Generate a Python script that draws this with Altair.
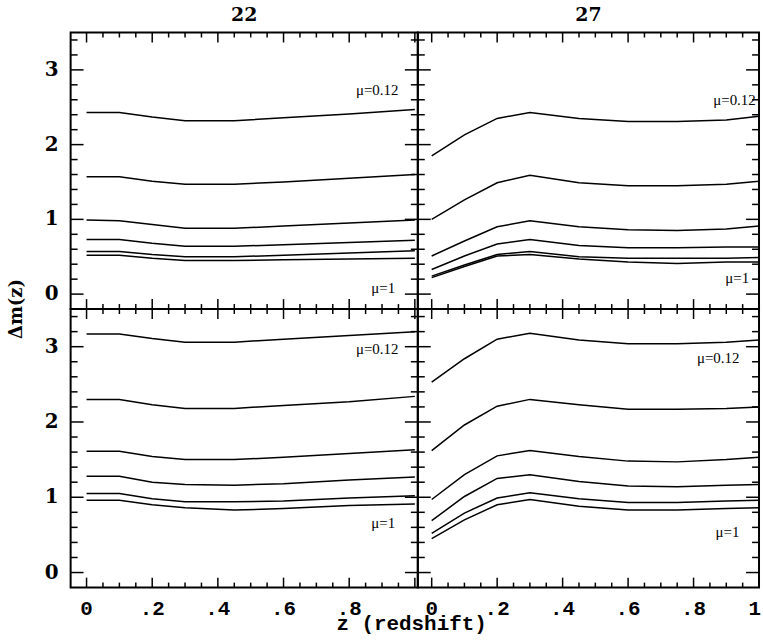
import altair as alt
import pandas as pd

# ---------------- data ----------------
z_left = [0, 0.1, 0.2, 0.3, 0.45, 0.6, 0.8, 1.0]
z_right = [0, 0.1, 0.2, 0.3, 0.45, 0.6, 0.75, 0.9, 1.0]

# upper row, panel "22"
up22 = [
    [2.43, 2.43, 2.37, 2.32, 2.32, 2.36, 2.41, 2.47],
    [1.57, 1.57, 1.51, 1.47, 1.47, 1.50, 1.55, 1.60],
    [0.99, 0.98, 0.93, 0.88, 0.88, 0.91, 0.95, 0.99],
    [0.73, 0.73, 0.68, 0.64, 0.64, 0.66, 0.69, 0.72],
    [0.57, 0.57, 0.53, 0.50, 0.50, 0.52, 0.55, 0.58],
    [0.52, 0.52, 0.48, 0.45, 0.45, 0.46, 0.47, 0.48],
]
# upper row, panel "27"
up27 = [
    [1.85, 2.13, 2.35, 2.43, 2.35, 2.31, 2.31, 2.33, 2.38],
    [1.00, 1.26, 1.49, 1.59, 1.49, 1.45, 1.45, 1.47, 1.51],
    [0.51, 0.71, 0.90, 0.98, 0.90, 0.86, 0.85, 0.87, 0.91],
    [0.33, 0.51, 0.67, 0.73, 0.65, 0.62, 0.62, 0.63, 0.63],
    [0.24, 0.39, 0.53, 0.57, 0.50, 0.48, 0.48, 0.48, 0.49],
    [0.22, 0.37, 0.51, 0.53, 0.47, 0.43, 0.41, 0.43, 0.43],
]
# lower row, panel "22"
lo22 = [
    [3.17, 3.17, 3.11, 3.06, 3.06, 3.10, 3.15, 3.20],
    [2.30, 2.30, 2.23, 2.18, 2.18, 2.22, 2.27, 2.34],
    [1.61, 1.61, 1.54, 1.50, 1.50, 1.53, 1.58, 1.63],
    [1.28, 1.28, 1.20, 1.17, 1.16, 1.18, 1.23, 1.27],
    [1.05, 1.05, 0.98, 0.94, 0.94, 0.95, 0.99, 1.02],
    [0.96, 0.96, 0.90, 0.86, 0.83, 0.85, 0.89, 0.91],
]
# lower row, panel "27"
lo27 = [
    [2.53, 2.84, 3.10, 3.18, 3.09, 3.04, 3.04, 3.06, 3.09],
    [1.62, 1.96, 2.21, 2.30, 2.23, 2.17, 2.17, 2.18, 2.20],
    [0.97, 1.30, 1.55, 1.62, 1.54, 1.48, 1.47, 1.50, 1.53],
    [0.69, 1.01, 1.25, 1.30, 1.21, 1.15, 1.14, 1.16, 1.17],
    [0.52, 0.79, 0.99, 1.06, 0.98, 0.93, 0.93, 0.95, 0.96],
    [0.45, 0.70, 0.90, 0.97, 0.88, 0.83, 0.83, 0.85, 0.86],
]

mu_text = ["\u03bc=0.12", "\u03bc=1"]
mu_up22 = ([0.95, 0.94], [2.73, 0.08])
mu_up27 = ([0.99, 0.97], [2.60, 0.21])
mu_lo22 = ([0.95, 0.94], [2.97, 0.66])
mu_lo27 = ([0.94, 0.94], [2.85, 0.54])

panel_titles = ["22", "27"]
y_title = "\u0394m(z)"
x_title = "z (redshift)"
y_title_pos = (-0.197, -0.2)   # data position, upper-left panel
x_title_pos = (0.99, -0.69)    # data position, lower-left panel

x_major = [0, 0.2, 0.4, 0.6, 0.8, 1.0]
x_minor = [0.05, 0.1, 0.15, 0.25, 0.3, 0.35, 0.45, 0.5, 0.55, 0.65, 0.7,
           0.75, 0.85, 0.9, 0.95]
x_tick_vals = [0, 0.2, 0.4, 0.6, 0.8]
x_tick_text = ["0", ".2", ".4", ".6", ".8"]
x_end_val = [1.0]
x_end_text = ["1"]
y_major = [0, 1, 2, 3]
y_tick_text = ["0", "1", "2", "3"]
y_minor = [0.2, 0.4, 0.6, 0.8, 1.2, 1.4, 1.6, 1.8, 2.2, 2.4, 2.6, 2.8,
           3.2, 3.4]

y_dom = [-0.2, 3.5]
x_dom_left = [-0.0485, 1.009]
x_dom_right = [-0.0424, 1.0]

SERIF = "DejaVu Serif"
MONO = "Liberation Mono"
MAJ_Y, MIN_Y = 13, 7     # tick lengths (px) on vertical edges
MAJ_X, MIN_X = 10, 5     # tick lengths (px) on horizontal edges


def curves_df(zs, ys):
    rows = []
    for i, ser in enumerate(ys):
        for z, v in zip(zs, ser):
            rows.append({"z": z, "dm": v, "curve": i})
    return pd.DataFrame(rows)


def ticks_df(xdom, width, height):
    # inward frame ticks as two-point segments, endpoints in data units
    dx = (xdom[1] - xdom[0]) / width
    dy = (y_dom[1] - y_dom[0]) / height
    x0, x1 = xdom
    y0, y1 = y_dom
    segs = []
    for vals, ln in ((y_major, MAJ_Y), (y_minor, MIN_Y)):
        for v in vals:
            segs.append(((x0, v), (x0 + ln * dx, v)))
            segs.append(((x1, v), (x1 - ln * dx, v)))
    for vals, ln in ((x_major, MAJ_X), (x_minor, MIN_X)):
        for v in vals:
            segs.append(((v, y0), (v, y0 + ln * dy)))
            segs.append(((v, y1), (v, y1 - ln * dy)))
    rows = []
    for i, (p, q) in enumerate(segs):
        rows.append({"id": i, "k": 0, "tx": p[0], "ty": p[1]})
        rows.append({"id": i, "k": 1, "tx": q[0], "ty": q[1]})
    return pd.DataFrame(rows)


def panel(zs, ys, mu, width, height, xdom, left, bottom, right_end=False,
          title=None, ytitle=False, xtitle=False):
    xs = alt.Scale(domain=xdom, nice=False, zero=False)
    ysc = alt.Scale(domain=y_dom, nice=False, zero=False)

    def X(field):
        return alt.X(field, scale=xs, axis=None)

    def Y(field):
        return alt.Y(field, scale=ysc, axis=None)

    layers = [
        alt.Chart(curves_df(zs, ys)).mark_line(
            color="black", strokeWidth=1.5).encode(
            x=X("z:Q"), y=Y("dm:Q"), detail="curve:N"),
        alt.Chart(ticks_df(xdom, width, height)).mark_line(
            color="black", strokeWidth=1.5, strokeCap="butt").encode(
            x=X("tx:Q"), y=Y("ty:Q"), detail="id:N",
            order=alt.Order("k:Q")),
        alt.Chart(pd.DataFrame({"z": mu[0], "dm": mu[1], "t": mu_text}))
        .mark_text(align="right", baseline="middle", font="Liberation Serif",
                   fontSize=15, color="black")
        .encode(x=X("z:Q"), y=Y("dm:Q"), text="t:N"),
    ]

    if left:
        layers.append(alt.Chart(pd.DataFrame(
            {"z": [xdom[0]] * len(y_major), "dm": y_major, "t": y_tick_text}
        )).mark_text(
            align="right", baseline="middle", dx=-12, font=SERIF,
            fontSize=20, fontWeight="bold", color="black"
        ).encode(x=X("z:Q"), y=Y("dm:Q"), text="t:N"))

    if bottom:
        layers.append(alt.Chart(pd.DataFrame(
            {"z": x_tick_vals, "dm": [y_dom[0]] * len(x_tick_vals),
             "t": x_tick_text}
        )).mark_text(
            align="center", baseline="top", dy=11, font=MONO, fontSize=21,
            fontWeight="bold", color="black"
        ).encode(x=X("z:Q"), y=Y("dm:Q"), text="t:N"))
        if right_end:
            layers.append(alt.Chart(pd.DataFrame(
                {"z": x_end_val, "dm": [y_dom[0]], "t": x_end_text}
            )).mark_text(
                align="right", baseline="top", dy=11, dx=2, font=MONO,
                fontSize=21, fontWeight="bold", color="black"
            ).encode(x=X("z:Q"), y=Y("dm:Q"), text="t:N"))

    if ytitle:
        layers.append(alt.Chart(pd.DataFrame(
            {"z": [y_title_pos[0]], "dm": [y_title_pos[1]], "t": [y_title]}
        )).mark_text(
            angle=270, align="center", baseline="alphabetic", font=SERIF,
            fontSize=18, fontWeight="bold", color="black"
        ).encode(x=X("z:Q"), y=Y("dm:Q"), text="t:N"))

    if xtitle:
        layers.append(alt.Chart(pd.DataFrame(
            {"z": [x_title_pos[0]], "dm": [x_title_pos[1]], "t": [x_title]}
        )).mark_text(
            align="center", baseline="middle", font=MONO, fontSize=21,
            fontWeight="bold", color="black"
        ).encode(x=X("z:Q"), y=Y("dm:Q"), text="t:N"))

    props = dict(width=width, height=height)
    if title:
        props["title"] = title
    return alt.layer(*layers).properties(**props)


p_tl = panel(z_left, up22, mu_up22, 349, 278, x_dom_left, True, False,
             title=panel_titles[0], ytitle=True)
p_tr = panel(z_right, up27, mu_up27, 343, 278, x_dom_right, False, False,
             title=panel_titles[1])
p_bl = panel(z_left, lo22, mu_lo22, 349, 280, x_dom_left, True, True,
             xtitle=True)
p_br = panel(z_right, lo27, mu_lo27, 343, 280, x_dom_right, False, True,
             right_end=True)

chart = alt.concat(p_tl, p_tr, p_bl, p_br, columns=2, spacing=0,
                   bounds="flush").properties(
    padding={"left": 6, "top": 3, "right": 0, "bottom": 0},
    background="white",
).configure_view(
    stroke="black", strokeWidth=2
).configure_title(
    font=SERIF, fontSize=19, fontWeight="bold", color="black",
    offset=5, anchor="middle"
)

chart.save("out.html", embed_options={"renderer": "svg", "actions": False})
